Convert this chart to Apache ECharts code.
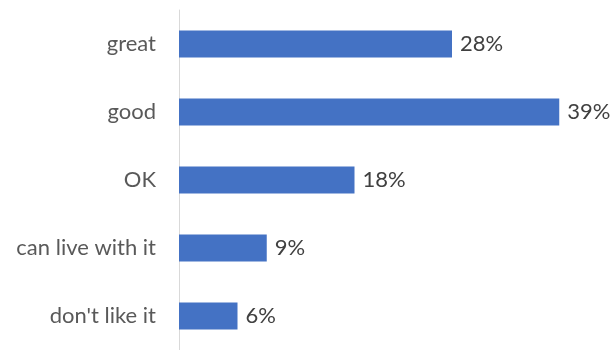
<!DOCTYPE html>
<html lang="en">
<head>
<meta charset="UTF-8">
<title>Ratings</title>
<style>
  html, body { margin: 0; padding: 0; background: #fff; }
  #main { width: 615px; height: 350px; }
</style>
</head>
<body>
<div id="main"></div>
<script src="https://cdn.jsdelivr.net/npm/echarts@6/dist/echarts.min.js"></script>
<script>
  var categories = ['great', 'good', 'OK', 'can live with it', "don't like it"];
  var shares = [28, 39, 18, 9, 6];

  var chart = echarts.init(document.getElementById('main'));
  var option = {
    animation: false,
    grid: { left: 179, top: 10, width: 390, height: 345 },
    xAxis: {
      type: 'value',
      min: 0,
      max: 40,
      show: false
    },
    yAxis: {
      type: 'category',
      inverse: true,
      data: categories,
      axisLine: { lineStyle: { color: '#d9d9d9', width: 1 } },
      axisTick: { show: false },
      axisLabel: {
        margin: 23,
        color: '#595959',
        fontSize: 22,
        fontFamily: 'Lato'
      }
    },
    series: [
      {
        type: 'bar',
        data: shares,
        barWidth: 27,
        itemStyle: { color: '#4472c4' },
        label: {
          show: true,
          position: 'right',
          distance: 8,
          color: '#404040',
          fontSize: 22,
          fontFamily: 'Lato',
          formatter: '{c}%'
        }
      }
    ]
  };
  chart.setOption(option);
</script>
</body>
</html>
